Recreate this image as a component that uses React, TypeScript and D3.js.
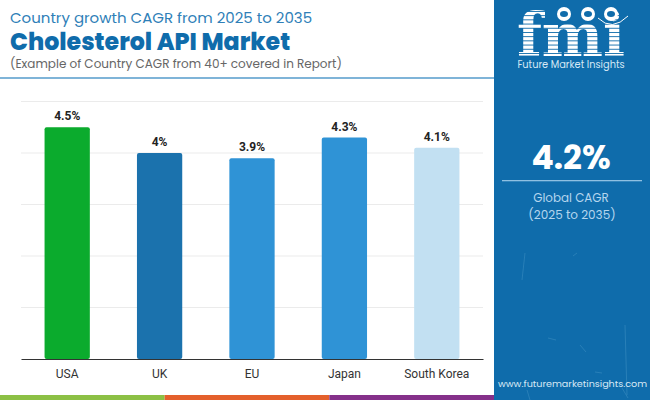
import { useEffect, useRef } from 'react';
import * as d3 from 'd3';

const countries = ['USA', 'UK', 'EU', 'Japan', 'South Korea'];
const cagr = [4.5, 4, 3.9, 4.3, 4.1];
const barColors = ['#0bab2d', '#1b72ad', '#2f93d6', '#2f93d6', '#c2e0f2'];
const gridTicks = [1, 2, 3, 4, 5];
const footerColors = ['#8cc045', '#e4602c', '#85308a'];
const logoStripes = d3.range(0, 13);
const logoDots = [564, 588, 611];
const panelSpecks = [
  'M525,253L522,280', 'M577,253L573,256', 'M625,325L627,395', 'M548,338L556,340',
  'M580,345L586,352', 'M527,390L530,400', 'M595,372L602,373', 'M622,388L628,398',
];

const FONT = 'Poppins, "Open Sans", "Noto Sans", sans-serif';

export default function App() {
  const svgRef = useRef<SVGSVGElement>(null);

  useEffect(() => {
    if (!svgRef.current) return;
    const svg = d3.select(svgRef.current);
    svg.selectAll('*').remove();

    const x = d3.scaleBand<string>().domain(countries).range([21, 483])
      .paddingInner(0.51).paddingOuter(0.255);
    const y = d3.scaleLinear().domain([0, 5]).range([359, 101.5]);

    svg.append('rect').attr('width', 650).attr('height', 400).attr('fill', '#fff');

    // Titles
    svg.append('text').attr('x', 10).attr('y', 23)
      .attr('font-family', FONT).attr('font-size', 15).attr('fill', '#2f7fb8')
      .text('Country growth CAGR from 2025 to 2035');
    svg.append('text').attr('x', 10).attr('y', 50)
      .attr('font-family', FONT).attr('font-size', 23.7).attr('font-weight', 800).attr('fill', '#0f6cab')
      .text('Cholesterol API Market');
    svg.append('text').attr('x', 10).attr('y', 68)
      .attr('font-family', FONT).attr('font-size', 12).attr('fill', '#666')
      .text('(Example of Country CAGR from 40+ covered in Report)');
    svg.append('rect').attr('x', 0).attr('y', 77).attr('width', 494).attr('height', 2).attr('fill', '#7fb4d8');

    // Grid
    svg.append('g').selectAll('line').data(gridTicks).join('line')
      .attr('x1', 21).attr('x2', 483)
      .attr('y1', d => y(d)).attr('y2', d => y(d))
      .attr('stroke', '#ebebeb').attr('stroke-width', 1);

    // Bars
    svg.append('g').selectAll('rect').data(countries).join('rect')
      .attr('x', d => x(d)!)
      .attr('y', (_, i) => y(cagr[i]))
      .attr('width', x.bandwidth())
      .attr('height', (_, i) => y(0) - y(cagr[i]))
      .attr('rx', 2)
      .attr('fill', (_, i) => barColors[i]);

    svg.append('g').selectAll('text').data(countries).join('text')
      .attr('x', d => x(d)! + x.bandwidth() / 2)
      .attr('y', (_, i) => y(cagr[i]) - 7)
      .attr('text-anchor', 'middle')
      .attr('font-family', 'Roboto, sans-serif').attr('font-size', 12).attr('font-weight', 700).attr('fill', '#222')
      .text((_, i) => `${cagr[i]}%`);

    // Axis
    const axis = svg.append('g').attr('transform', `translate(0,${y(0)})`)
      .call(d3.axisBottom(x).tickSize(0).tickPadding(10));
    axis.select('.domain').attr('stroke', '#333').attr('stroke-width', 1.2);
    axis.selectAll('text')
      .attr('font-family', 'Roboto, sans-serif').attr('font-size', 12).attr('fill', '#333');

    // Footer strip
    const footer = d3.scaleBand<string>().domain(footerColors).range([0, 494]);
    svg.append('g').selectAll('rect').data(footerColors).join('rect')
      .attr('x', d => footer(d)!).attr('y', 395)
      .attr('width', footer.bandwidth()).attr('height', 5)
      .attr('fill', d => d);

    // Side panel
    svg.append('rect').attr('x', 494).attr('y', 0).attr('width', 156).attr('height', 400).attr('fill', '#0f6cab');
    svg.append('g').selectAll('path').data(panelSpecks).join('path')
      .attr('d', d => d).attr('stroke', '#5aa3cf').attr('stroke-opacity', 0.35).attr('fill', 'none');

    // Logo, striped letters
    const defs = svg.append('defs');
    const mask = defs.append('mask').attr('id', 'logoMask')
      .attr('maskUnits', 'userSpaceOnUse')
      .attr('x', 500).attr('y', 0).attr('width', 150).attr('height', 70);
    mask.append('rect').attr('x', 500).attr('y', 0).attr('width', 150).attr('height', 70).attr('fill', '#fff');
    mask.selectAll('rect.stripe').data(logoStripes).join('rect')
      .attr('class', 'stripe')
      .attr('x', 500).attr('y', d => 11 + d * 4.2)
      .attr('width', 150).attr('height', 0.9).attr('fill', '#000');
    svg.append('text').attr('x', 571).attr('y', 56)
      .attr('mask', 'url(#logoMask)')
      .attr('text-anchor', 'middle')
      .attr('font-family', '"DejaVu Serif", serif').attr('font-size', 60).attr('font-weight', 700)
      .attr('textLength', 108).attr('lengthAdjust', 'spacingAndGlyphs')
      .attr('fill', '#fff').text('fmi');
    svg.append('g').selectAll('circle').data(logoDots).join('circle')
      .attr('cx', d => d).attr('cy', 14).attr('r', 7).attr('fill', '#fff');
    svg.append('g').selectAll('ellipse').data(logoDots).join('ellipse')
      .attr('cx', d => d).attr('cy', 14).attr('rx', 4).attr('ry', 3).attr('fill', '#0f6cab');
    svg.append('path').attr('d', 'M598,18Q612,32 628,16')
      .attr('fill', 'none').attr('stroke', '#fff').attr('stroke-width', 1);
    svg.append('text').attr('x', 571).attr('y', 68)
      .attr('text-anchor', 'middle')
      .attr('font-family', FONT).attr('font-size', 9.8).attr('fill', '#d6e8f5')
      .text('Future Market Insights');

    // Global CAGR
    svg.append('text').attr('x', 571).attr('y', 169)
      .attr('text-anchor', 'middle')
      .attr('font-family', FONT).attr('font-size', 33).attr('font-weight', 700).attr('fill', '#fff')
      .text('4.2%');
    svg.append('rect').attr('x', 502).attr('y', 180).attr('width', 140).attr('height', 1.3).attr('fill', '#8fc0e2');
    svg.append('text').attr('x', 571).attr('y', 201.5)
      .attr('text-anchor', 'middle')
      .attr('font-family', FONT).attr('font-size', 11.9).attr('fill', '#b5d6ee')
      .text('Global CAGR');
    svg.append('text').attr('x', 572).attr('y', 218.5)
      .attr('text-anchor', 'middle')
      .attr('font-family', FONT).attr('font-size', 12).attr('fill', '#b5d6ee')
      .text('(2025 to 2035)');

    svg.append('text').attr('x', 572.5).attr('y', 387)
      .attr('text-anchor', 'middle')
      .attr('font-family', FONT).attr('font-size', 9.6).attr('fill', '#d6e8f5')
      .text('www.futuremarketinsights.com');
  }, []);

  return (
    <svg
      ref={svgRef}
      width={650}
      height={400}
      style={{ position: 'absolute', left: 0, top: 0, display: 'block' }}
    />
  );
}
